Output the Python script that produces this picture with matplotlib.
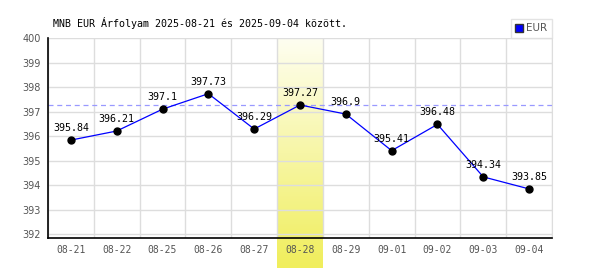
import matplotlib.pyplot as plt
import numpy as np
from matplotlib.colors import LinearSegmentedColormap

dates = ["08-21", "08-22", "08-25", "08-26", "08-27", "08-28",
         "08-29", "09-01", "09-02", "09-03", "09-04"]
rates = [395.84, 396.21, 397.1, 397.73, 396.29, 397.27,
         396.9, 395.41, 396.48, 394.34, 393.85]
highlight = 5
y_ticks = [392, 393, 394, 395, 396, 397, 398, 399, 400]

fig = plt.figure(figsize=(6, 2.7), dpi=100)
ax = fig.add_axes([48 / 600, 32 / 270, 504 / 600, 200 / 270])

x = np.arange(len(dates))
ymin, ymax = 391.85, 400

# highlighted day, gradient running past the x axis
cmap = LinearSegmentedColormap.from_list("hl", ["#fefef0", "#f0ee5c"])
grad = np.linspace(0, 1, 100).reshape(-1, 1)
ax.imshow(grad, cmap=cmap, aspect="auto", zorder=0, clip_on=False,
          extent=(highlight - 0.5, highlight + 0.5, ymin - 1.22, ymax),
          origin="upper")

ax.axhline(rates[highlight], color="#9999ff", lw=0.9, ls=(0, (4, 3)), zorder=1)
ax.plot(x, rates, color="#0000ff", lw=0.9, zorder=2)
ax.plot(x, rates, "o", color="black", ms=5, zorder=3, label="_nolegend_")

for xi, v in zip(x, rates):
    ax.annotate(f"{v:g}", (xi, v), xytext=(0, 5), textcoords="offset points",
                ha="center", va="bottom", fontsize=7.2, family="DejaVu Sans Mono")

ax.set_xlim(-0.5, len(dates) - 0.5)
ax.set_ylim(ymin, ymax)
ax.set_xticks(x)
ax.set_xticklabels(dates, family="DejaVu Sans Mono", fontsize=7, color="#555555")
ax.set_xticks(np.arange(len(dates) + 1) - 0.5, minor=True)
ax.set_yticks(y_ticks)
ax.set_yticklabels([str(t) for t in y_ticks], fontsize=7, color="#555555")
ax.tick_params(axis="both", which="both", length=0)
ax.tick_params(axis="x", pad=5)
ax.tick_params(axis="y", pad=5)
ax.grid(True, which="minor", axis="x", color="#dddddd", lw=1)
ax.grid(True, which="major", axis="y", color="#dddddd", lw=1)
ax.set_axisbelow(True)
ax.spines["top"].set_visible(False)
ax.spines["right"].set_color("#dddddd")
for s in ["left", "bottom"]:
    ax.spines[s].set_color("black")
    ax.spines[s].set_linewidth(1.2)

# legend handle
ax.plot([], [], "s", color="#0000ff", mec="#333333", ms=6, label="EUR")
leg = ax.legend(loc="lower right", bbox_to_anchor=(1.0, 1.0), frameon=True,
                fancybox=False, fontsize=7.5, handlelength=0.7, handletextpad=0.3,
                borderpad=0.45, borderaxespad=0)
leg.get_frame().set_edgecolor("#dddddd")
leg.get_frame().set_linewidth(1)
for t in leg.get_texts():
    t.set_color("#555555")

fig.text(53 / 600, 1 - 23 / 270, "MNB EUR Árfolyam 2025-08-21 és 2025-09-04 között.",
         family="DejaVu Sans Mono", fontsize=7.2, va="center", ha="left")

fig.savefig("out.png", dpi=100)
